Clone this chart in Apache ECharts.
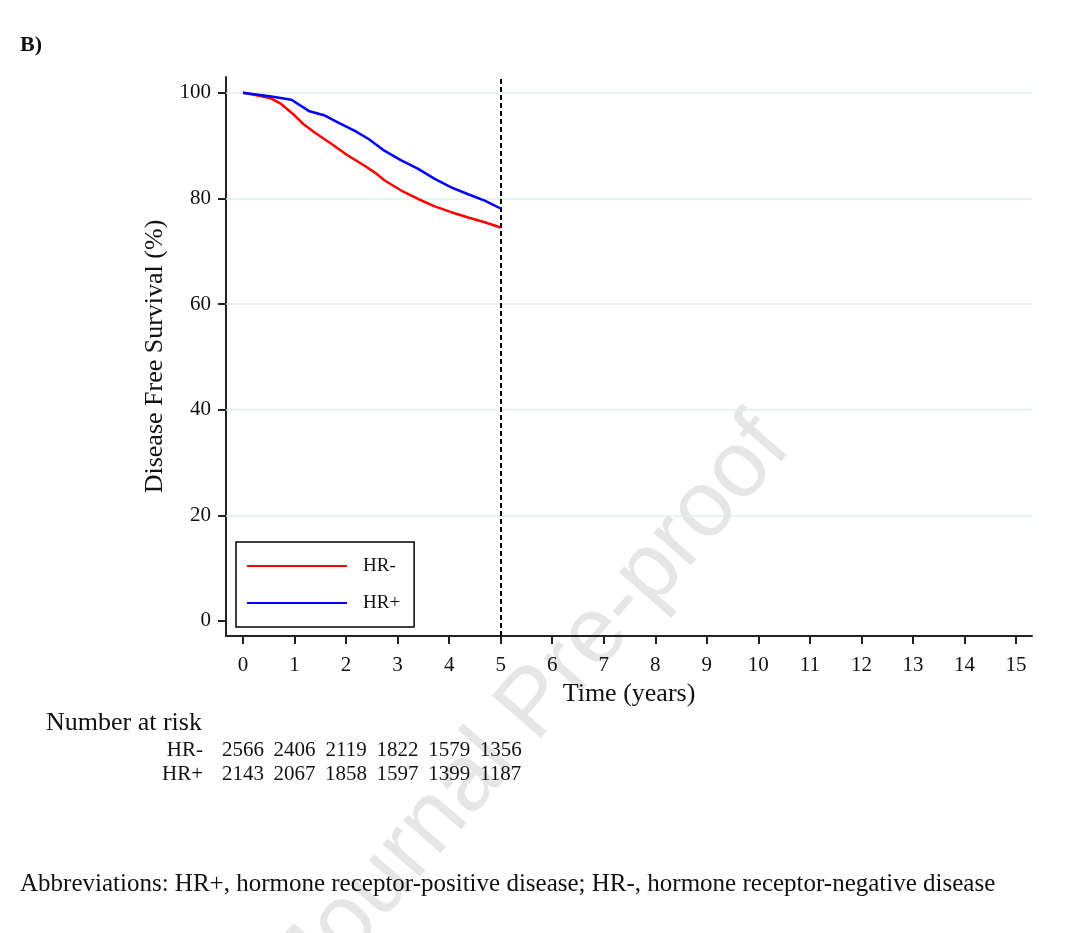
<!DOCTYPE html>
<html>
<head>
<meta charset="utf-8">
<script src="https://cdn.jsdelivr.net/npm/echarts@6/dist/echarts.min.js"></script>
<style>
  html, body { margin: 0; padding: 0; background: #fff; }
  #chart { width: 1080px; height: 933px; }
</style>
</head>
<body>
<div id="chart"></div>
<script>
var chart = echarts.init(document.getElementById('chart'));

// Kaplan-Meier curves: [years, %]
var hrNeg = [[0, 100], [0.29, 99.5], [0.55, 98.9], [0.74, 97.9], [0.97, 96.0], [1.17, 94.1],
  [1.39, 92.5], [1.72, 90.3], [2.04, 88.1], [2.36, 86.2], [2.56, 84.9], [2.75, 83.4],
  [3.07, 81.5], [3.40, 79.9], [3.72, 78.5], [4.04, 77.4], [4.37, 76.4], [4.69, 75.5], [5.0, 74.5]];
var hrPos = [[0, 100], [0.55, 99.3], [0.94, 98.7], [1.29, 96.5], [1.59, 95.7], [1.84, 94.4],
  [2.17, 92.8], [2.43, 91.3], [2.75, 89.0], [3.07, 87.2], [3.40, 85.6], [3.72, 83.7],
  [4.04, 82.1], [4.37, 80.8], [4.69, 79.6], [5.0, 78.1]];

var xTicks = [0, 1, 2, 3, 4, 5, 6, 7, 8, 9, 10, 11, 12, 13, 14, 15];
var yTicks = [0, 20, 40, 60, 80, 100];
var gridValues = [20, 40, 60, 80, 100];
var cutoffYear = 5;

// number at risk
var riskTimes = [0, 1, 2, 3, 4, 5];
var riskNeg = [2566, 2406, 2119, 1822, 1579, 1356];
var riskPos = [2143, 2067, 1858, 1597, 1399, 1187];

var serif = 'Liberation Serif';
var axisCol = '#222';

var markData = gridValues.map(function (v) {
    return { yAxis: v, lineStyle: { color: '#e3edef', width: 1.5, type: 'solid' } };
});
markData.push({ xAxis: cutoffYear, lineStyle: { color: '#000', width: 2, type: [5, 3] } });

var option = {
    backgroundColor: '#fff',
    animation: false,
    grid: { left: 226, right: 48, top: 77, bottom: 297 },
    legend: {
        orient: 'vertical',
        left: 236,
        top: 542,
        padding: [14, 14, 14, 11],
        itemGap: 17,
        itemWidth: 100,
        itemHeight: 2,
        icon: 'rect',
        borderColor: '#000',
        borderWidth: 1.5,
        backgroundColor: '#fff',
        textStyle: { fontFamily: serif, fontSize: 19, color: '#111', lineHeight: 20, padding: [0, 0, 0, 11] },
        data: ['HR-', 'HR+'],
        z: 10
    },
    xAxis: {
        type: 'value',
        min: -0.33,
        max: 15.31,
        name: 'Time (years)',
        nameLocation: 'middle',
        nameGap: 39,
        nameTextStyle: { fontFamily: serif, fontSize: 26, color: '#111' },
        axisLine: { show: true, onZero: false, lineStyle: { color: axisCol, width: 2 } },
        axisTick: { show: true, length: 8, lineStyle: { color: axisCol, width: 2 }, customValues: xTicks },
        axisLabel: { fontFamily: serif, fontSize: 21, color: '#111', margin: 19, customValues: xTicks },
        splitLine: { show: false }
    },
    yAxis: {
        type: 'value',
        min: -2.85,
        max: 103,
        name: 'Disease Free Survival (%)',
        nameLocation: 'middle',
        nameGap: 56,
        nameRotate: 90,
        nameTextStyle: { fontFamily: serif, fontSize: 26, color: '#111' },
        axisLine: { show: true, onZero: false, lineStyle: { color: axisCol, width: 2 } },
        axisTick: { show: true, length: 8, lineStyle: { color: axisCol, width: 2 }, customValues: yTicks },
        axisLabel: { fontFamily: serif, fontSize: 21, color: '#111', margin: 15, padding: [5, 0, 0, 0], customValues: yTicks },
        splitLine: { show: false }
    },
    series: [{
        name: 'HR-',
        type: 'line',
        data: hrNeg,
        symbol: 'none',
        color: '#ff0000',
        lineStyle: { color: '#ff0000', width: 2.5 },
        z: 4,
        markLine: {
            silent: true,
            symbol: 'none',
            label: { show: false },
            data: markData,
            z: 1
        }
    }, {
        name: 'HR+',
        type: 'line',
        data: hrPos,
        symbol: 'none',
        color: '#0000ff',
        lineStyle: { color: '#0000ff', width: 2.5 },
        z: 5
    }]
};
chart.setOption(option);

// text around the plot, risk table placed under the x ticks
var txt = function (x, y, s, style) {
    return {
        type: 'text', x: x, y: y, z: 100,
        style: Object.assign({ text: s, fontFamily: serif, fontSize: 21, fill: '#111',
            textAlign: 'left', textVerticalAlign: 'middle' }, style || {})
    };
};
var els = [{
    type: 'text', x: 535, y: 705, rotation: 49 * Math.PI / 180, z: -10,
    style: { text: 'Journal Pre-proof', fontFamily: 'Liberation Sans', fontSize: 94,
        fill: '#e6e6e6', textAlign: 'center', textVerticalAlign: 'middle' }
}];
els.push(txt(20, 45, 'B)', { fontWeight: 'bold', fontSize: 22 }));
els.push(txt(46, 723, 'Number at risk', { fontSize: 26 }));
els.push(txt(203, 750, 'HR-', { textAlign: 'right' }));
els.push(txt(203, 774, 'HR+', { textAlign: 'right' }));
riskTimes.forEach(function (t, i) {
    var px = chart.convertToPixel({ xAxisIndex: 0 }, t);
    els.push(txt(px, 750, String(riskNeg[i]), { textAlign: 'center' }));
    els.push(txt(px, 774, String(riskPos[i]), { textAlign: 'center' }));
});
els.push(txt(20, 884, 'Abbreviations: HR+, hormone receptor-positive disease; HR-, hormone receptor-negative disease', { fontSize: 25 }));
chart.setOption({ graphic: { elements: els } });
</script>
</body>
</html>
